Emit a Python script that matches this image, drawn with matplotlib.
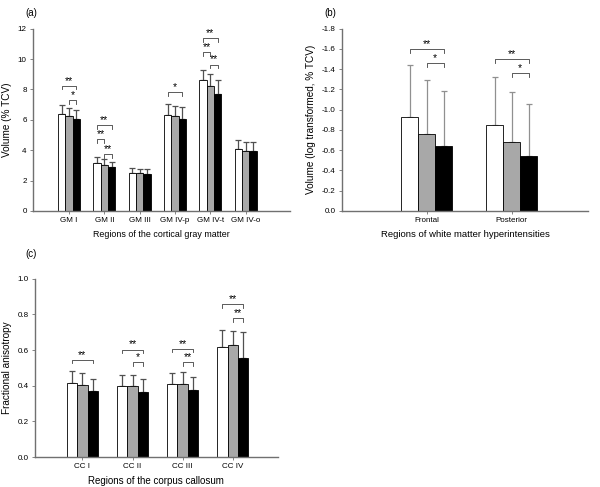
import numpy as np
import matplotlib.pyplot as plt

plt.rcParams['font.family'] = ['Liberation Sans', 'DejaVu Sans']

# (a) cortical gray matter volume, % TCV
gm_labels = ["GM I", "GM II", "GM III", "GM IV-p", "GM IV-t", "GM IV-o"]
gm_g1 = [6.40, 3.18, 2.51, 6.31, 8.62, 4.06]
gm_g2 = [6.27, 3.02, 2.47, 6.22, 8.25, 3.97]
gm_g3 = [6.07, 2.91, 2.43, 6.07, 7.72, 3.97]
gm_g1_top = [6.97, 3.53, 2.85, 7.04, 9.31, 4.65]
gm_g2_top = [6.77, 3.40, 2.78, 6.93, 9.00, 4.52]
gm_g3_top = [6.66, 3.22, 2.78, 6.84, 8.65, 4.52]
# (group, bar from, bar to, height, mark)
gm_sig = [(0, 0, 2, 8.25, "**"), (0, 1, 2, 7.32, "*"),
          (1, 0, 2, 5.65, "**"), (1, 0, 1, 4.72, "**"), (1, 1, 2, 3.73, "**"),
          (3, 0, 2, 7.81, "*"),
          (4, 0, 2, 11.36, "**"), (4, 0, 1, 10.46, "**"), (4, 1, 2, 9.64, "**")]

# (b) white matter hyperintensities, log transformed % TCV
wmh_labels = ["Frontal", "Posterior"]
wmh_g1 = [-0.93, -0.85]
wmh_g2 = [-0.76, -0.68]
wmh_g3 = [-0.64, -0.54]
wmh_g1_top = [-1.44, -1.32]
wmh_g2_top = [-1.29, -1.17]
wmh_g3_top = [-1.18, -1.06]
wmh_sig = [(0, 0, 2, -1.60, "**"), (0, 1, 2, -1.46, "*"),
           (1, 0, 2, -1.50, "**"), (1, 1, 2, -1.36, "*")]

# (c) corpus callosum FA
cc_labels = ["CC I", "CC II", "CC III", "CC IV"]
cc_g1 = [0.414, 0.398, 0.408, 0.617]
cc_g2 = [0.402, 0.398, 0.412, 0.628]
cc_g3 = [0.372, 0.367, 0.376, 0.558]
cc_g1_top = [0.480, 0.458, 0.472, 0.712]
cc_g2_top = [0.470, 0.462, 0.476, 0.705]
cc_g3_top = [0.440, 0.436, 0.451, 0.702]
cc_sig = [(0, 0, 2, 0.545, "**"),
          (1, 0, 2, 0.603, "**"), (1, 1, 2, 0.532, "*"),
          (2, 0, 2, 0.607, "**"), (2, 1, 2, 0.532, "**"),
          (3, 0, 2, 0.857, "**"), (3, 1, 2, 0.778, "**")]

colors = ["white", "#a8a8a8", "black"]
axcol = "#707070"


def panel(ax, labels, groups, tops, sig, bw, xlim, ylim, yticks, ticklabels,
          ylabel, xlabel, errcol, tick_h, xlab_size):
    x = np.arange(len(labels))
    for i, (vals, top) in enumerate(zip(groups, tops)):
        xi = x + (i - 1) * bw
        vals = np.array(vals)
        top = np.array(top)
        ax.bar(xi, vals, bw, color=colors[i], edgecolor="black", linewidth=0.6, zorder=2)
        err = np.abs(top - vals)
        if ylim[1] < 0:
            yerr = [err, np.zeros_like(err)]
        else:
            yerr = [np.zeros_like(err), err]
        ax.errorbar(xi, vals, yerr=yerr, fmt="none", ecolor=errcol, elinewidth=0.9,
                    capsize=2.2, capthick=0.9, zorder=1)
    for g, a, b, h, mark in sig:
        xa = g + (a - 1) * bw
        xb = g + (b - 1) * bw
        ax.plot([xa, xa, xb, xb], [h - tick_h, h, h, h - tick_h], color="#404040", lw=0.6)
        ax.text((xa + xb) / 2, h, mark, ha="center", va="bottom", fontsize=7.5)
    ax.set_xlim(*xlim)
    ax.set_ylim(*ylim)
    ax.set_xticks(x)
    ax.set_xticklabels(labels, fontsize=5.8)
    ax.set_yticks(yticks)
    ax.set_yticklabels(ticklabels, fontsize=5.8)
    ax.set_ylabel(ylabel, fontsize=7.2)
    ax.set_xlabel(xlabel, fontsize=xlab_size)
    for s in ["top", "right"]:
        ax.spines[s].set_visible(False)
    for s in ["left", "bottom"]:
        ax.spines[s].set_color(axcol)
        ax.spines[s].set_linewidth(1.0)
    ax.tick_params(length=2.5, width=0.6, color=axcol, pad=2)


fig = plt.figure(figsize=(6, 4.87), dpi=100)

ax1 = fig.add_axes([0.055, 0.567, 0.428, 0.374])
panel(ax1, gm_labels, [gm_g1, gm_g2, gm_g3], [gm_g1_top, gm_g2_top, gm_g3_top], gm_sig,
      0.21, (-1.02, 6.25), (0, 12), np.arange(0, 13, 2), [str(v) for v in range(0, 13, 2)],
      "Volume (% TCV)", "Regions of the cortical gray matter", "#505050", 0.25, 6.4)

ax2 = fig.add_axes([0.57, 0.567, 0.41, 0.374])
yt = np.arange(0, -1.81, -0.2)
panel(ax2, wmh_labels, [wmh_g1, wmh_g2, wmh_g3], [wmh_g1_top, wmh_g2_top, wmh_g3_top], wmh_sig,
      0.2, (-1.0, 1.9), (0, -1.8), yt, ["%.1f" % v if abs(v) > 1e-9 else "0.0" for v in yt],
      "Volume (log transformed, % TCV)", "Regions of white matter hyperintensities", "#909090", -0.035, 6.8)

ax3 = fig.add_axes([0.058, 0.0616, 0.405, 0.366])
panel(ax3, cc_labels, [cc_g1, cc_g2, cc_g3], [cc_g1_top, cc_g2_top, cc_g3_top], cc_sig,
      0.205, (-0.95, 3.9), (0, 1.0), np.arange(0, 1.01, 0.2), ["%.1f" % v for v in np.arange(0, 1.01, 0.2)],
      "Fractional anisotropy", "Regions of the corpus callosum", "#505050", 0.02, 7.0)

fig.text(0.042, 0.973, "(a)", fontsize=7, ha="left", va="center")
fig.text(0.54, 0.973, "(b)", fontsize=7, ha="left", va="center")
fig.text(0.042, 0.478, "(c)", fontsize=7, ha="left", va="center")

fig.savefig("out.png", dpi=100)
